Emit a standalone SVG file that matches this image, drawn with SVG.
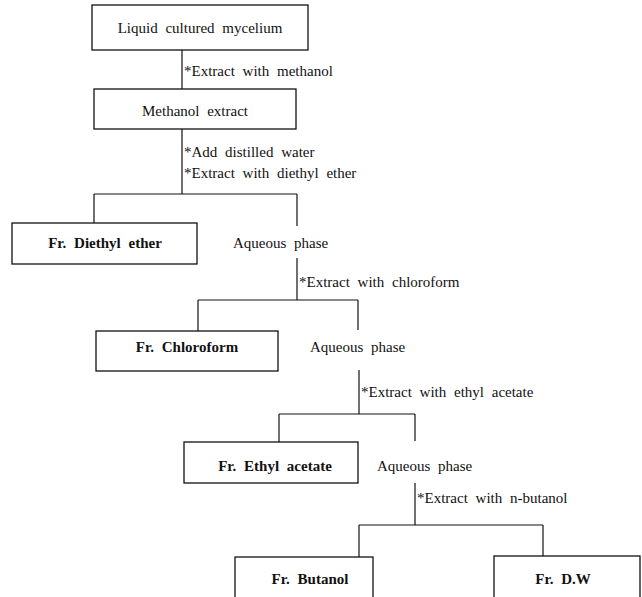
<svg xmlns="http://www.w3.org/2000/svg" width="642" height="597" viewBox="0 0 642 597" font-family="'Liberation Serif', 'DejaVu Serif', 'Times New Roman', serif">
<style>
.bx{fill:#fff;stroke:#111;stroke-width:1.3}
.ln{fill:none;stroke:#111;stroke-width:1.2}
text{font-family:'Liberation Serif','DejaVu Serif','Times New Roman',serif;font-size:15px;fill:#111;word-spacing:4px}
.b{font-weight:bold}
.c{text-anchor:middle}
</style>
<rect width="642" height="597" fill="#fff"/>
<g id="connectors">
<path class="ln" d="M182,50V89M182,129V194M94,194H297M94,194V223M297,194V226M297,258V300M198,300H358M198,300V331M358,300V330M359,370V414M279,414H415M279,414V442M415,414V441M415,483V525M359,525H543M359,525V557M543,525V556"/>
<text x="184" y="76">*Extract with methanol</text>
<text x="184" y="157">*Add distilled water</text>
<text x="184" y="178">*Extract with diethyl ether</text>
<text x="299" y="287">*Extract with chloroform</text>
<text x="361" y="397">*Extract with ethyl acetate</text>
<text x="417" y="503">*Extract with n-butanol</text>
</g>
<g id="n1"><rect class="bx" x="92" y="5" width="216" height="45"/><text class="c" x="200" y="33">Liquid cultured mycelium</text></g>
<g id="n2"><rect class="bx" x="94" y="89" width="202" height="40"/><text class="c" x="195" y="116">Methanol extract</text></g>
<g id="n3"><rect class="bx" x="12" y="223" width="185" height="41"/><text class="c b" x="105" y="248">Fr. Diethyl ether</text></g>
<g id="n4"><text x="233" y="248">Aqueous phase</text></g>
<g id="n5"><rect class="bx" x="96" y="331" width="182" height="40"/><text class="c b" x="187" y="352">Fr. Chloroform</text></g>
<g id="n6"><text x="310" y="352">Aqueous phase</text></g>
<g id="n7"><rect class="bx" x="184" y="442" width="174" height="41"/><text class="c b" x="275" y="471">Fr. Ethyl acetate</text></g>
<g id="n8"><text x="377" y="471">Aqueous phase</text></g>
<g id="n9"><rect class="bx" x="235" y="557" width="138" height="50"/><text class="c b" x="310" y="584">Fr. Butanol</text></g>
<g id="n10"><rect class="bx" x="494" y="556" width="146" height="50"/><text class="c b" x="563" y="584">Fr. D.W</text></g>
</svg>
